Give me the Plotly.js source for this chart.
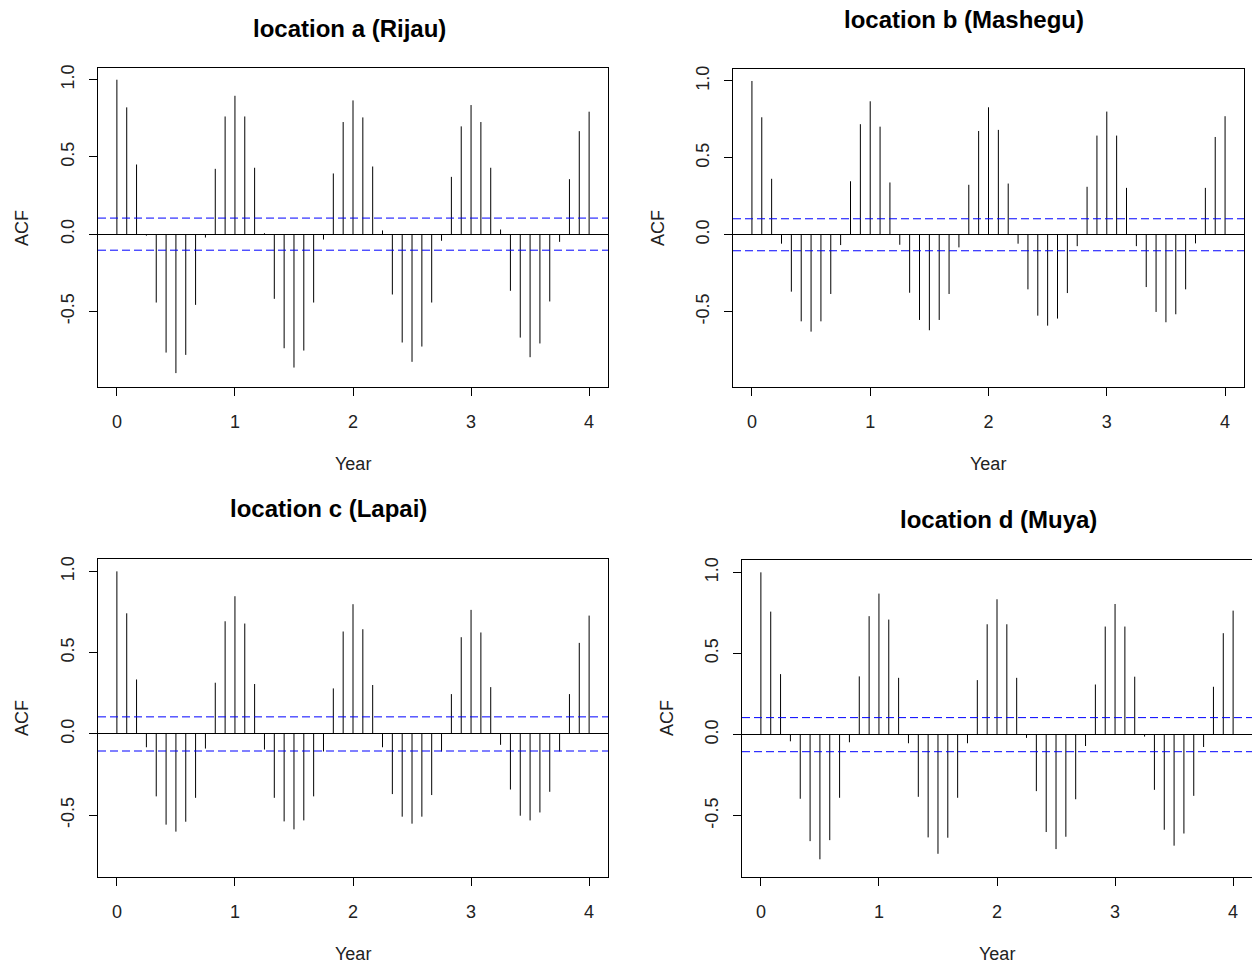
<!DOCTYPE html>
<html><head><meta charset="utf-8">
<script src="https://cdn.plot.ly/plotly-3.0.1.min.js"></script>
<style>html,body{margin:0;padding:0;background:#fff}#chart{width:1252px;height:965px}</style>
</head><body><div id="chart"></div>
<script>
// lag in months (converted to years for the x axis)
const lagMonths = [0,1,2,3,4,5,6,7,8,9,10,11,12,13,14,15,16,17,18,19,20,21,22,23,24,25,26,27,28,29,30,31,32,33,34,35,36,37,38,39,40,41,42,43,44,45,46,47,48];

const acfA = [1.0,0.821,0.451,-0.010,-0.443,-0.767,-0.900,-0.782,-0.458,-0.022,0.423,0.762,0.896,0.762,0.430,0.006,-0.419,-0.739,-0.864,-0.754,-0.443,-0.035,0.393,0.726,0.866,0.756,0.438,0.024,-0.391,-0.702,-0.827,-0.728,-0.443,-0.043,0.371,0.698,0.836,0.726,0.430,0.030,-0.367,-0.670,-0.797,-0.708,-0.436,-0.050,0.356,0.667,0.793];
const acfB = [1.0,0.764,0.364,-0.058,-0.370,-0.563,-0.630,-0.563,-0.385,-0.067,0.348,0.719,0.868,0.703,0.340,-0.065,-0.377,-0.554,-0.621,-0.554,-0.385,-0.082,0.325,0.675,0.829,0.682,0.333,-0.058,-0.355,-0.526,-0.591,-0.545,-0.379,-0.074,0.312,0.645,0.801,0.645,0.305,-0.074,-0.340,-0.502,-0.569,-0.517,-0.355,-0.056,0.305,0.636,0.771];
const acfC = [1.0,0.742,0.335,-0.082,-0.384,-0.558,-0.601,-0.540,-0.393,-0.090,0.315,0.693,0.847,0.679,0.307,-0.096,-0.393,-0.538,-0.587,-0.532,-0.384,-0.108,0.280,0.630,0.798,0.644,0.301,-0.082,-0.370,-0.509,-0.552,-0.509,-0.376,-0.108,0.245,0.595,0.763,0.624,0.288,-0.067,-0.342,-0.503,-0.532,-0.483,-0.356,-0.108,0.245,0.560,0.728];
const acfD = [1.0,0.758,0.373,-0.041,-0.395,-0.656,-0.768,-0.650,-0.389,-0.047,0.359,0.730,0.869,0.709,0.350,-0.053,-0.383,-0.633,-0.734,-0.635,-0.389,-0.053,0.336,0.680,0.834,0.680,0.350,-0.020,-0.348,-0.600,-0.705,-0.629,-0.398,-0.070,0.309,0.666,0.805,0.666,0.357,-0.012,-0.340,-0.586,-0.684,-0.609,-0.377,-0.076,0.295,0.625,0.764];

// 95% confidence bounds (blue dashed lines)
const ciA = 0.104, ciB = 0.104, ciC = 0.105, ciD = 0.105;

const titles = ["location a (Rijau)","location b (Mashegu)","location c (Lapai)","location d (Muya)"];
const xTickVals = [0,1,2,3,4];
const xTickText = ["0","1","2","3","4"];
const yTickVals = [-0.5,0,0.5,1.0];
const yTickText = ["-0.5","0.0","0.5","1.0"];
const xLabel = "Year", yLabel = "ACF";

const W = 1252, H = 965;
const panels = [
  {acf: acfA, ci: ciA, box: [98, 608, 68, 387], yr: [-0.99, 1.076], title: [349, 29], ylab: [22, 228], xlab: [353, 464], rightBorder: true},
  {acf: acfB, ci: ciB, box: [733, 1244, 69, 387], yr: [-0.99, 1.078], title: [964, 20], ylab: [658, 228], xlab: [988, 464], rightBorder: true},
  {acf: acfC, ci: ciC, box: [98, 608, 559, 877], yr: [-0.88, 1.076], title: [328, 508], ylab: [22, 718], xlab: [353, 954], rightBorder: true},
  {acf: acfD, ci: ciD, box: [742, 1252, 560, 877], yr: [-0.877, 1.076], title: [998, 519], ylab: [667, 718], xlab: [997, 954], rightBorder: false}
];

const FONT = "Liberation Sans, Arial, sans-serif";
const data = [], shapes = [], annotations = [];
const layout = {
  width: W, height: H, margin: {l: 0, r: 0, t: 0, b: 0},
  paper_bgcolor: "#fff", plot_bgcolor: "#fff", showlegend: false,
  font: {family: FONT, color: "#000"}
};

panels.forEach((p, i) => {
  const n = i + 1;
  const xa = "x" + (n === 1 ? "" : n), ya = "y" + (n === 1 ? "" : n);
  const xk = "xaxis" + (n === 1 ? "" : n), yk = "yaxis" + (n === 1 ? "" : n);
  const xs = [], ys = [];
  lagMonths.forEach((m, k) => { xs.push(m / 12, m / 12, null); ys.push(0, p.acf[k], null); });
  data.push({type: "scatter", mode: "lines", x: xs, y: ys, xaxis: xa, yaxis: ya,
    line: {color: "#000", width: 1}, hoverinfo: "skip", connectgaps: false});
  [p.ci, -p.ci].forEach(c => shapes.push({type: "line", xref: xa + " domain", yref: ya,
    x0: 0, x1: 1, y0: c, y1: c, line: {color: "#0000ff", width: 1, dash: "8px,4px"}}));
  const [x0, x1, y0, y1] = p.box;
  layout[xk] = {domain: [x0 / W, x1 / W], range: [-0.16, 4.16], anchor: ya,
    tickvals: xTickVals, ticktext: xTickText, ticks: "outside", ticklen: 8, tickcolor: "#000",
    showline: true, linecolor: "#000", linewidth: 1, mirror: true, showgrid: false, zeroline: false,
    tickfont: {size: 18, color: "#222", family: FONT}, ticklabelstandoff: 10, fixedrange: true};
  layout[yk] = {domain: [1 - y1 / H, 1 - y0 / H], range: p.yr, anchor: xa,
    tickvals: yTickVals, ticktext: yTickText, ticks: "outside", ticklen: 8, tickcolor: "#000",
    tickangle: -90, showline: true, linecolor: "#000", linewidth: 1, mirror: p.rightBorder,
    showgrid: false, zeroline: true, zerolinecolor: "#000", zerolinewidth: 1,
    tickfont: {size: 18, color: "#222", family: FONT}, ticklabelstandoff: 8, fixedrange: true};
  annotations.push({xref: "paper", yref: "paper", x: p.title[0] / W, y: 1 - p.title[1] / H,
    xanchor: "center", yanchor: "middle", showarrow: false, text: "<b>" + titles[i] + "</b>",
    font: {size: 24, family: FONT, color: "#000"}});
  annotations.push({xref: "paper", yref: "paper", x: p.ylab[0] / W, y: 1 - p.ylab[1] / H,
    xanchor: "center", yanchor: "middle", showarrow: false, text: yLabel, textangle: -90,
    font: {size: 18, family: FONT, color: "#222"}});
  annotations.push({xref: "paper", yref: "paper", x: p.xlab[0] / W, y: 1 - p.xlab[1] / H,
    xanchor: "center", yanchor: "middle", showarrow: false, text: xLabel,
    font: {size: 18, family: FONT, color: "#222"}});
});
layout.shapes = shapes;
layout.annotations = annotations;
Plotly.newPlot("chart", data, layout, {staticPlot: true, displayModeBar: false});
</script></body></html>
